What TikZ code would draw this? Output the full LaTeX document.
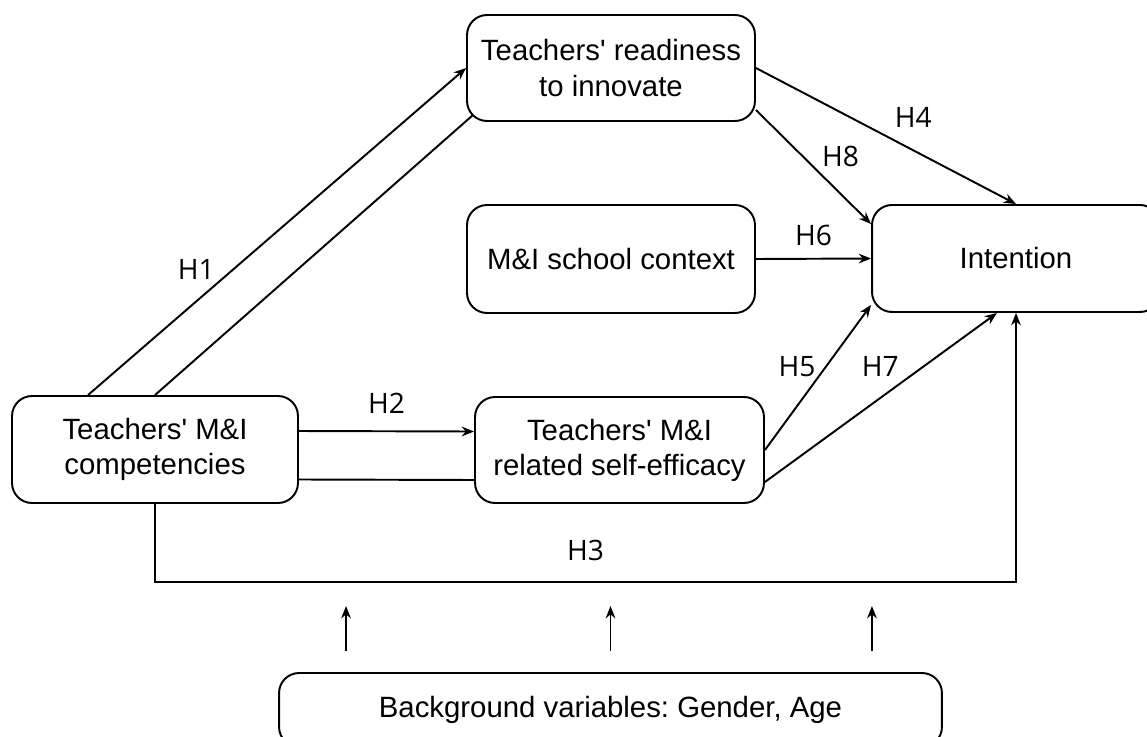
\documentclass[tikz,border=0pt]{standalone}
\usepackage{fontspec}
\setmainfont{Liberation Sans}
\newfontfamily\hypfont{Open Sans}
\usetikzlibrary{arrows.meta}
\frenchspacing

\begin{document}
\begin{tikzpicture}[x=0.02cm, y=-0.02cm]
\tikzset{
	box/.style = {
		draw, rectangle, rounded corners=0.4cm,
		line width=1.1pt, align=center,
		font=\fontsize{16.7}{20}\selectfont,
		inner sep=0pt
	},
	hyp/.style={
		font=\hypfont\fontsize{16}{18}\selectfont,
		inner sep=0pt
	},
	conn/.style={
		draw, line width=1.1pt
	},
	arr/.style={
		conn, -{Stealth[length=7pt, width=5.5pt]}
	},
}
\useasboundingbox (0,0) rectangle (1147,737);

% the boxes
\node [box, minimum width=5.76cm, minimum height=2.12cm] (ready) at (611, 68) {Teachers\textquotesingle{} readiness\\to innovate};
\node [box, minimum width=5.76cm, minimum height=2.16cm] (school) at (611, 259) {M\&I school context};
\node [box, minimum width=5.76cm, minimum height=2.14cm] (intent) at (1016, 258.5) {Intention};
\node [box, minimum width=5.72cm, minimum height=2.14cm] (comp) at (155, 449.5) {Teachers\textquotesingle{} M\&I\\competencies};
\node [box, minimum width=5.78cm, minimum height=2.12cm] (self) at (619.5, 450) {Teachers\textquotesingle{} M\&I\\related self-efficacy};
\node [box, minimum width=13.26cm, minimum height=1.48cm] (bg) at (610.5, 710) {Background variables: Gender, Age};

% the hypotheses
\path [arr] ([xshift=-1.34cm]comp.north) -- node [hyp, pos=0.384, left=0.35cm] {H1} (ready.west);
\path [conn] (comp.north) -- ([xshift=0.14cm, yshift=0.14cm]ready.south west);

\path [arr] ([yshift=0.37cm]comp.east) -- node [hyp, above=0.34cm] {H2} ([yshift=0.37cm]self.west);
\path [conn] ([yshift=-0.6cm]comp.east) -- ([yshift=-0.6cm]self.west);

\path [arr] (comp.south) -- ++(0, 78) -| node [hyp, pos=0.25, above=0.4cm] {H3} (intent.south);

\path [arr] (ready.east) -- node [hyp, above right=0.16cm] {H4} (intent.north);
\path [arr] ([yshift=0.24cm]ready.south east) -- node [hyp, pos=0.41, right=0.36cm] {H8} ([yshift=-0.4cm]intent.north west);

\path [arr] (school.east) -- node [hyp, above=0.24cm] {H6} (intent.west);

\path [arr] (self.east) -- node [hyp, pos=0.575, left=0.19cm] {H5} ([yshift=0.16cm]intent.south west);
\path [arr] ([yshift=-0.64cm]self.east) -- node [hyp, pos=0.686, left=0.49cm] {H7} ([xshift=-0.38cm]intent.south);

% background variables
\foreach \s/\n in {-5.29/a, 0/b, 5.23/c}
{
  \coordinate (up\n) at ([xshift=\s cm, yshift=0.42cm]bg.north);
  \path [arr] (up\n) -- ++(0, -45);
}

\end{tikzpicture}
\end{document}
